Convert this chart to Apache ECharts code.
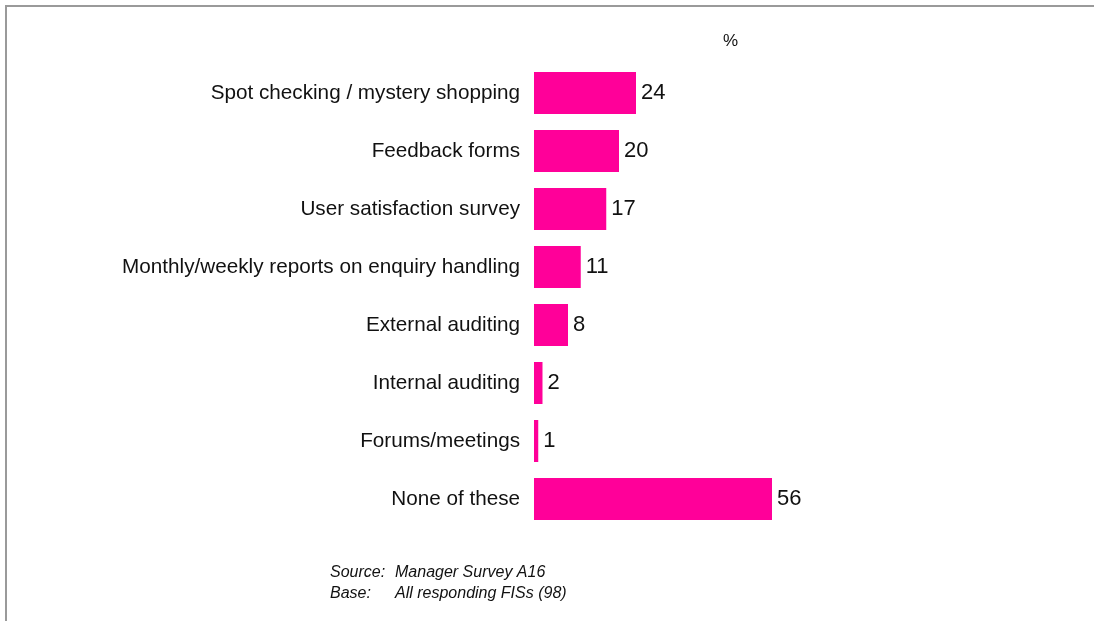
<!DOCTYPE html>
<html>
<head>
<meta charset="utf-8">
<script src="https://cdn.jsdelivr.net/npm/echarts@6/dist/echarts.min.js"></script>
<style>
  html, body { margin: 0; padding: 0; background: #fff; }
  #chart { width: 1094px; height: 621px; }
</style>
</head>
<body>
<div id="chart"></div>
<script>
// Monitoring methods and share of responding FISs (%)
const categories = [
  'Spot checking / mystery shopping',
  'Feedback forms',
  'User satisfaction survey',
  'Monthly/weekly reports on enquiry handling',
  'External auditing',
  'Internal auditing',
  'Forums/meetings',
  'None of these'
];
const values = [24, 20, 17, 11, 8, 2, 1, 56];
const unitLabel = '%';
const sourceLines = [
  ['Source:', 'Manager Survey A16'],
  ['Base:', 'All responding FISs (98)']
];

const FONT = '"Liberation Sans", Arial, sans-serif';
const chart = echarts.init(document.getElementById('chart'), null, { renderer: 'canvas' });

const footnote = [];
sourceLines.forEach((ln, i) => {
  footnote.push({
    type: 'text', left: 330, top: 565 + i * 21,
    style: { text: ln[0], font: 'italic 16px ' + FONT, fill: '#111' }
  });
  footnote.push({
    type: 'text', left: 395, top: 565 + i * 21,
    style: { text: ln[1], font: 'italic 16px ' + FONT, fill: '#111' }
  });
});

chart.setOption({
  animation: false,
  backgroundColor: '#fff',
  grid: { left: 534, top: 64, width: 425, height: 464, containLabel: false },
  xAxis: {
    type: 'value', min: 0, max: 100,
    show: false
  },
  yAxis: {
    type: 'category',
    data: categories,
    inverse: true,
    axisLine: { show: false },
    axisTick: { show: false },
    splitLine: { show: false },
    axisLabel: {
      margin: 14,
      fontSize: 20.7,
      fontFamily: FONT,
      color: '#111',
      padding: [7, 0, 0, 0]
    }
  },
  series: [{
    type: 'bar',
    data: values,
    barWidth: 42,
    itemStyle: { color: '#FF0099' },
    label: {
      show: true,
      position: 'right',
      distance: 5,
      fontSize: 22,
      fontFamily: FONT,
      color: '#111',
      padding: [6, 0, 0, 0]
    }
  }],
  graphic: [
    // frame lines
    { type: 'line', shape: { x1: 5, y1: 6, x2: 1094, y2: 6 }, style: { stroke: '#9a9a9a', lineWidth: 2 } },
    { type: 'line', shape: { x1: 6, y1: 6, x2: 6, y2: 621 }, style: { stroke: '#9a9a9a', lineWidth: 2 } },
    {
      type: 'text', left: 723, top: 33,
      style: { text: unitLabel, font: '17px ' + FONT, fill: '#111' }
    }
  ].concat(footnote)
});
</script>
</body>
</html>
